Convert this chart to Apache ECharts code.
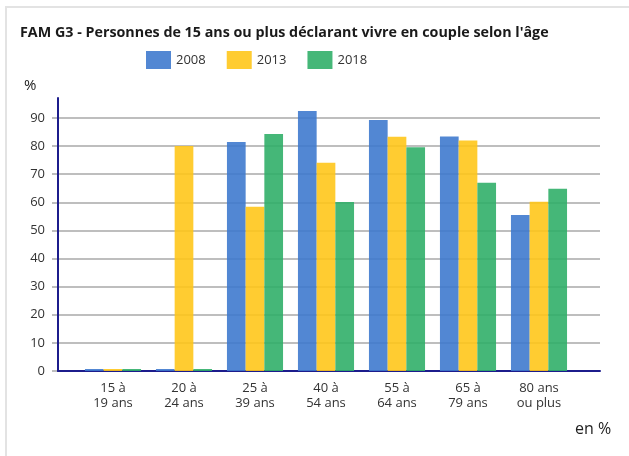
<!DOCTYPE html>
<html>
<head>
<meta charset="utf-8">
<script src="https://cdn.jsdelivr.net/npm/echarts@6/dist/echarts.min.js"></script>
<style>
  html, body { margin: 0; padding: 0; background: #fff; }
  #main { width: 629px; height: 456px; }
</style>
</head>
<body>
<div id="main"></div>
<script>
// données
var ageGroups = ["15 à\n19 ans", "20 à\n24 ans", "25 à\n39 ans", "40 à\n54 ans", "55 à\n64 ans", "65 à\n79 ans", "80 ans\nou plus"];
var years = ["2008", "2013", "2018"];
var values2008 = [0.5, 0.5, 81.5, 92.5, 89.3, 83.4, 55.5];
var values2013 = [0.5, 80.0, 58.4, 74.1, 83.3, 82.0, 60.2];
var values2018 = [0.5, 0.5, 84.3, 60.1, 79.6, 67.0, 64.8];
var yTicks = { min: 0, max: 90, interval: 10 };

var colors = ["#3f7ace", "#ffc61b", "#31af69"];
var font = "Open Sans";

var myChart = echarts.init(document.getElementById("main"));

function barSeries(name, data, color) {
  return {
    name: name,
    type: "bar",
    xAxisIndex: 2,
    yAxisIndex: 2,
    data: data,
    clip: false,
    barGap: "0%",
    barCategoryGap: "21%",
    barMinHeight: 2,
    itemStyle: { color: color, opacity: 0.9 },
    z: 4
  };
}

myChart.setOption({
  animation: false,
  textStyle: { fontFamily: font },
  color: colors,
  title: {
    text: "FAM G3 - Personnes de 15 ans ou plus déclarant vivre en couple selon l'âge",
    left: 15,
    top: 21,
    textStyle: { fontFamily: font, fontSize: 14.3, fontWeight: "bold", color: "#1a1a1a" }
  },
  legend: {
    data: years,
    left: 141,
    top: 46,
    itemWidth: 25,
    itemHeight: 18,
    itemGap: 21,
    icon: "rect",
    textStyle: { fontFamily: font, fontSize: 13, color: "#333" }
  },
  graphic: [
    {
      type: "rect",
      shape: { x: 6, y: 7, width: 640, height: 470 },
      style: { fill: null, stroke: "#e3e3e3", lineWidth: 2 },
      silent: true
    },
    {
      type: "text",
      left: 24,
      top: 78,
      style: { text: "%", font: "15px 'Open Sans'", fill: "#222" }
    },
    {
      type: "text",
      left: 575,
      top: 421,
      style: { text: "en %", font: "16px 'Open Sans'", fill: "#222" }
    }
  ],
  grid: [
    { left: 58, right: 29, top: 118, bottom: 85 },
    { left: 58, right: 29, top: 98, bottom: 85 },
    { left: 77.5, right: 54.5, top: 118, bottom: 85 }
  ],
  xAxis: [
    { gridIndex: 0, type: "value", show: false },
    {
      gridIndex: 1,
      type: "value",
      axisLine: { show: true, lineStyle: { color: "#1c1c8c", width: 2 } },
      axisTick: { show: false },
      axisLabel: { show: false },
      splitLine: { show: false },
      z: 2
    },
    {
      gridIndex: 2,
      type: "category",
      data: ageGroups,
      axisLine: { show: false },
      axisTick: { show: false },
      axisLabel: { fontFamily: font, fontSize: 13, color: "#333", lineHeight: 15, margin: 10 }
    }
  ],
  yAxis: [
    {
      gridIndex: 0,
      type: "value",
      min: yTicks.min,
      max: yTicks.max,
      interval: yTicks.interval,
      axisLine: { show: false },
      axisTick: { show: true, length: 6, lineStyle: { color: "#a8a8a8", width: 1.5 } },
      axisLabel: { fontFamily: font, fontSize: 13, color: "#333", margin: 13 },
      splitLine: { show: true, lineStyle: { color: "#a8a8a8", width: 1.5 } }
    },
    {
      gridIndex: 1,
      type: "value",
      axisLine: { show: true, lineStyle: { color: "#1c1c8c", width: 2 } },
      axisTick: { show: false },
      axisLabel: { show: false },
      splitLine: { show: false },
      z: 2
    },
    {
      gridIndex: 2,
      type: "value",
      min: yTicks.min,
      max: yTicks.max,
      show: false,
      splitLine: { show: false }
    }
  ],
  series: [
    barSeries(years[0], values2008, colors[0]),
    barSeries(years[1], values2013, colors[1]),
    barSeries(years[2], values2018, colors[2])
  ]
});
</script>
</body>
</html>
